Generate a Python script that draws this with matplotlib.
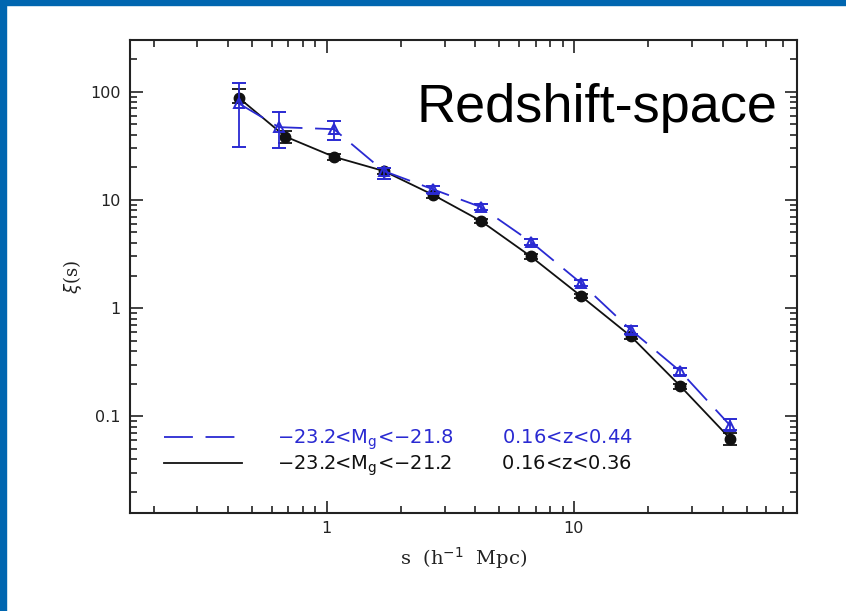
import numpy as np
import matplotlib.pyplot as plt
from matplotlib.patches import Rectangle
from matplotlib.lines import Line2D
from matplotlib.ticker import FixedLocator, FixedFormatter, LogLocator, NullFormatter

# =========================
# data
# =========================
s_black = [0.44, 0.68, 1.07, 1.7, 2.7, 4.2, 6.7, 10.7, 17, 27, 43]
xi_black = [88, 38.5, 25, 18.5, 11.1, 6.4, 3.0, 1.29, 0.55, 0.19, 0.062]
err_black_lo = [10, 5, 1.5, 1.0, 0.6, 0.3, 0.15, 0.06, 0.03, 0.01, 0.008]
err_black_hi = [18, 5, 1.5, 1.0, 0.6, 0.3, 0.15, 0.06, 0.03, 0.01, 0.008]

s_blue = [0.44, 0.64, 1.07, 1.7, 2.7, 4.2, 6.7, 10.7, 17, 27, 43]
xi_blue = [78, 47, 45, 18.5, 12.5, 8.6, 4.1, 1.7, 0.63, 0.26, 0.082]
err_blue_lo = [47, 17, 9, 3.0, 0.8, 0.5, 0.25, 0.1, 0.05, 0.02, 0.007]
err_blue_hi = [43, 18, 8.5, 1.0, 0.8, 0.5, 0.25, 0.1, 0.05, 0.02, 0.013]

label_blue = "\u221223.2<" + r"$\mathregular{M_g}$" + "<\u221221.8        0.16<z<0.44"
label_black = "\u221223.2<" + r"$\mathregular{M_g}$" + "<\u221221.2        0.16<z<0.36"

yticks = [0.1, 1, 10, 100]
ytick_labels = ["0.1", "1", "10", "100"]
xticks = [1, 10]
xtick_labels = ["1", "10"]

BLUE = "#2a2ad2"
FRAME_BLUE = "#0066b0"


def main():
    fig = plt.figure(figsize=(8.46, 6.11), dpi=100)
    fig.patch.set_facecolor("white")

    # slide-style blue border (top strip + left strip)
    fig.patches.append(Rectangle((0, 1 - 5 / 611), 1, 5 / 611, transform=fig.transFigure,
                                 color=FRAME_BLUE, zorder=0))
    fig.patches.append(Rectangle((0, 0), 6 / 846, 1, transform=fig.transFigure,
                                 color=FRAME_BLUE, zorder=0))

    ax = fig.add_axes([130 / 846, 1 - 513 / 611, 667 / 846, 473 / 611])
    ax.set_xscale("log")
    ax.set_yscale("log")
    ax.set_xlim(0.16, 80)
    ax.set_ylim(0.0128, 300)

    # blue dashed series
    ax.errorbar(s_blue, xi_blue, yerr=[err_blue_lo, err_blue_hi],
                color=BLUE, lw=1.3, dashes=(16, 7), marker="^", ms=7,
                mfc="none", mec=BLUE, mew=1.4, ecolor=BLUE, elinewidth=1.3,
                capsize=5, capthick=1.3, zorder=3)

    # black solid series
    ax.errorbar(s_black, xi_black, yerr=[err_black_lo, err_black_hi],
                color="#111111", lw=1.3, marker="o", ms=7.5, mfc="#111111",
                mec="#111111", ecolor="#111111", elinewidth=1.3,
                capsize=5, capthick=1.3, zorder=2)

    # ticks
    ax.xaxis.set_major_locator(FixedLocator(xticks))
    ax.xaxis.set_major_formatter(FixedFormatter(xtick_labels))
    ax.xaxis.set_minor_locator(LogLocator(base=10, subs=np.arange(2, 10)))
    ax.xaxis.set_minor_formatter(NullFormatter())
    ax.yaxis.set_major_locator(FixedLocator(yticks))
    ax.yaxis.set_major_formatter(FixedFormatter(ytick_labels))
    ax.yaxis.set_minor_locator(LogLocator(base=10, subs=np.arange(2, 10)))
    ax.yaxis.set_minor_formatter(NullFormatter())

    ax.tick_params(which="both", direction="in", top=True, right=True,
                   color="#222222", width=1.2)
    ax.tick_params(which="major", length=9, labelsize=11.5, labelcolor="#222222")
    ax.tick_params(axis="y", which="major", pad=7)
    ax.tick_params(axis="x", which="major", pad=6)
    ax.tick_params(which="minor", length=5)
    for sp in ax.spines.values():
        sp.set_linewidth(1.5)
        sp.set_color("#222222")

    ax.set_xlabel(r"s  (h$^{-1}$  Mpc)", family="DejaVu Serif", fontsize=14,
                  color="#222222", labelpad=6)
    ax.set_ylabel(r"$\xi$(s)", family="DejaVu Serif", fontsize=13,
                  color="#222222", labelpad=4)

    ax.text(0.970, 0.827, "Redshift-space", transform=ax.transAxes,
            ha="right", va="baseline", family="Liberation Sans", fontsize=39,
            color="black")

    h_blue = Line2D([], [], color=BLUE, lw=1.3, dashes=(16, 7))
    h_black = Line2D([], [], color="#111111", lw=1.3)
    leg = ax.legend([h_blue, h_black], [label_blue, label_black],
                    loc="lower left", bbox_to_anchor=(0.036, 0.053),
                    frameon=False, fontsize=14, handlelength=4.0,
                    handletextpad=1.8, labelspacing=0.1, borderpad=0)
    leg.get_texts()[0].set_color(BLUE)
    leg.get_texts()[1].set_color("#111111")

    fig.savefig("out.png", dpi=100)
    plt.close(fig)


if __name__ == "__main__":
    main()
